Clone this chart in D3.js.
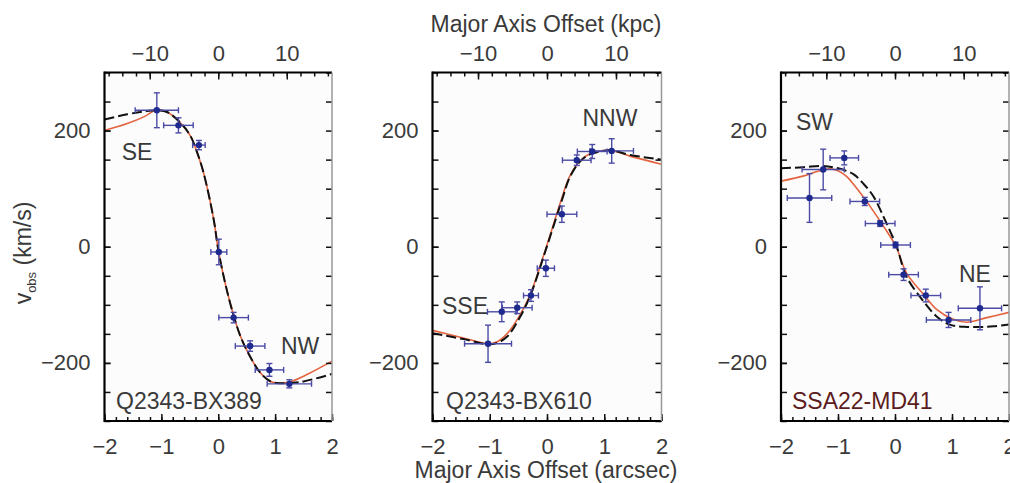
<!DOCTYPE html>
<html><head><meta charset="utf-8">
<script src="https://cdn.jsdelivr.net/npm/d3@7/dist/d3.min.js"></script>
<style>
html,body{margin:0;padding:0;background:#fff;}
svg text{font-family:"Liberation Sans",Arial,Helvetica,sans-serif;fill:#3a3a3a;}
</style></head>
<body>
<svg id="chart" width="1010" height="483"></svg>
<script>
// ---------- data ----------
const xTicks = [-2, -1, 0, 1, 2];
const kpcTicks = [-10, 0, 10];
const yTicks = [-200, 0, 200];
const kpcPerArcsec = 8.3;

const panelNames = ["Q2343-BX389", "Q2343-BX610", "SSA22-MD41"];

// points: x (arcsec), v (km/s), ex, ev
const bx389Points = [
  {x:-1.08, v:235, ex:0.38, ev:30}, {x:-0.70, v:209, ex:0.26, ev:13},
  {x:-0.34, v:175, ex:0.11, ev:8},  {x:0.01, v:-9, ex:0.14, ev:22},
  {x:0.27, v:-122, ex:0.26, ev:9},  {x:0.56, v:-171, ex:0.26, ev:9},
  {x:0.90, v:-212, ex:0.25, ev:11}, {x:1.25, v:-236, ex:0.39, ev:7}
];
const bx610Points = [
  {x:-1.03, v:-167, ex:0.41, ev:32}, {x:-0.79, v:-112, ex:0.25, ev:17},
  {x:-0.52, v:-105, ex:0.26, ev:10}, {x:-0.28, v:-84, ex:0.13, ev:10},
  {x:-0.02, v:-37, ex:0.15, ev:14},  {x:0.26, v:56, ex:0.26, ev:14},
  {x:0.52, v:149, ex:0.25, ev:9},    {x:0.79, v:164, ex:0.26, ev:12},
  {x:1.13, v:165, ex:0.38, ev:21}
];
const md41Points = [
  {x:-1.50, v:84, ex:0.39, ev:42},  {x:-1.26, v:133, ex:0.37, ev:35},
  {x:-0.89, v:153, ex:0.25, ev:12}, {x:-0.53, v:78, ex:0.26, ev:7},
  {x:-0.26, v:40, ex:0.26, ev:5},   {x:0.01, v:3, ex:0.26, ev:5},
  {x:0.15, v:-48, ex:0.26, ev:10},  {x:0.54, v:-84, ex:0.26, ev:11},
  {x:0.94, v:-126, ex:0.39, ev:13}, {x:1.49, v:-106, ex:0.38, ev:37}
];

// model curves [x, v]
const bx389Dashed = [[-2,219],[-1.6,228],[-1.3,233],[-1.08,235],[-0.9,232],[-0.67,214],[-0.49,191],[-0.37,162],[-0.26,128],[-0.08,47],[0,-5],[0.12,-62],[0.24,-108],[0.39,-154],[0.56,-189],[0.74,-217],[0.92,-232],[1.09,-235],[1.44,-233],[2,-219]];
const bx389Red = [[-2,200],[-1.6,212],[-1.3,224],[-1.08,236],[-0.9,232],[-0.67,214],[-0.49,191],[-0.37,162],[-0.26,128],[-0.08,47],[0,-5],[0.12,-62],[0.24,-108],[0.39,-154],[0.56,-189],[0.74,-217],[0.92,-232],[1.09,-235],[1.25,-233],[1.56,-220],[2,-197]];
const bx610Dashed = [[-2,-149],[-1.46,-159],[-1.03,-168],[-0.88,-166],[-0.7,-155],[-0.5,-126],[-0.3,-86],[-0.02,-5],[0.26,80],[0.4,120],[0.58,147],[0.75,159],[1.1,166],[1.45,158],[2,150]];
const bx610Red = [[-2,-144],[-1.46,-157],[-1.03,-167],[-0.88,-164],[-0.7,-150],[-0.5,-122],[-0.3,-84],[-0.02,-3],[0.26,84],[0.4,122],[0.58,148],[0.75,160],[1.1,166],[1.45,156],[2,142]];
const md41Dashed = [[-2,135],[-1.6,137],[-1.26,139],[-1.0,135],[-0.73,125],[-0.55,108],[-0.38,87],[-0.18,47],[0.03,0],[0.2,-51],[0.5,-94],[0.73,-120],[0.96,-134],[1.26,-138],[1.73,-137],[2,-134]];
const md41Red = [[-2,113],[-1.6,122],[-1.35,130],[-1.15,134],[-1.0,131],[-0.85,121],[-0.7,104],[-0.44,70],[-0.2,35],[0.02,0],[0.2,-45],[0.5,-82],[0.73,-108],[1.02,-125],[1.26,-130],[1.61,-122],[2,-113]];

const sideLabels = [
  [{t:"SE", x:121.7, y:160}, {t:"NW", x:281, y:354}],
  [{t:"NNW", x:582.5, y:126}, {t:"SSE", x:442, y:314}],
  [{t:"SW", x:796, y:130}, {t:"NE", x:959, y:282}]
];

// ---------- layout ----------
const panelLeft = [104.5, 432.5, 781];
const panelWidth = [227.5, 229, 228];
const plotTop = 72.5, plotBottom = 421;
const nameColor = ["#3a3a3a", "#3a3a3a", "#5c1c1c"];

const svg = d3.select("#chart");
const pointsAll = [bx389Points, bx610Points, md41Points];
const dashedAll = [bx389Dashed, bx610Dashed, md41Dashed];
const redAll = [bx389Red, bx610Red, md41Red];

panelNames.forEach((name, i) => {
  const L = panelLeft[i], R = L + panelWidth[i];
  const x = d3.scaleLinear().domain([-2, 2]).range([L, R]);
  const y = d3.scaleLinear().domain([-300, 300]).range([plotBottom, plotTop]);
  const k = d3.scaleLinear().domain([-2*kpcPerArcsec, 2*kpcPerArcsec]).range([L, R]);
  const g = svg.append("g");

  g.append("rect").attr("x", L).attr("y", plotTop).attr("width", R-L).attr("height", plotBottom-plotTop).attr("fill", "#fcfcfc");

  const clipId = "clip" + i;
  svg.append("clipPath").attr("id", clipId).append("rect")
    .attr("x", L).attr("y", plotTop).attr("width", R-L).attr("height", plotBottom-plotTop);

  const line = d3.line().x(d => x(d[0])).y(d => y(d[1])).curve(d3.curveCatmullRom.alpha(0.5));
  const cg = g.append("g").attr("clip-path", `url(#${clipId})`);
  cg.append("path").attr("d", line(redAll[i])).attr("fill", "none")
    .attr("stroke", "#e4643f").attr("stroke-width", 1.6);
  cg.append("path").attr("d", line(dashedAll[i])).attr("fill", "none")
    .attr("stroke", "#111").attr("stroke-width", 2).attr("stroke-dasharray", "10,4");

  // error bars
  const eb = g.append("g").attr("stroke", "#4b4ba6").attr("stroke-width", 1.4).attr("fill", "none");
  const cap = 3;
  pointsAll[i].forEach(p => {
    const cx = x(p.x), cy = y(p.v);
    const x0 = x(p.x - p.ex), x1 = x(p.x + p.ex), y0 = y(p.v - p.ev), y1 = y(p.v + p.ev);
    eb.append("line").attr("x1", x0).attr("x2", x1).attr("y1", cy).attr("y2", cy);
    eb.append("line").attr("x1", cx).attr("x2", cx).attr("y1", y0).attr("y2", y1);
    eb.append("line").attr("x1", x0).attr("x2", x0).attr("y1", cy-cap).attr("y2", cy+cap);
    eb.append("line").attr("x1", x1).attr("x2", x1).attr("y1", cy-cap).attr("y2", cy+cap);
    eb.append("line").attr("x1", cx-cap).attr("x2", cx+cap).attr("y1", y0).attr("y2", y0);
    eb.append("line").attr("x1", cx-cap).attr("x2", cx+cap).attr("y1", y1).attr("y2", y1);
  });
  g.selectAll("circle.pt").data(pointsAll[i]).join("circle").attr("class","pt")
    .attr("cx", d => x(d.x)).attr("cy", d => y(d.v)).attr("r", 3.2).attr("fill", "#1e2a8e");

  // axes
  const fmt = d3.format("d");
  const styleAxis = (sel, fs) => {
    sel.select(".domain").remove();
    sel.selectAll(".tick line").attr("stroke", "#111").attr("stroke-width", 1.5);
    sel.selectAll("text").attr("font-size", fs).attr("fill", "#3a3a3a")
      .attr("font-family", "'Liberation Sans', Arial, sans-serif");
  };
  const yMinor = d3.range(-300, 301, 50);
  g.append("g").attr("transform", `translate(${L},0)`)
    .call(d3.axisLeft(y).tickValues(yMinor).tickSize(-6).tickFormat("")).call(s => styleAxis(s, 22));
  g.append("g").attr("transform", `translate(${L},0)`)
    .call(d3.axisLeft(y).tickValues(yTicks).tickSize(-6).tickPadding(14).tickFormat(fmt)).call(s => styleAxis(s, 22));
  g.append("g").attr("transform", `translate(${R},0)`)
    .call(d3.axisRight(y).tickValues(yMinor).tickSize(-6).tickFormat("")).call(s => styleAxis(s, 22));

  const xMinor = d3.range(-20, 21, 2).map(v => v / 10);
  g.append("g").attr("transform", `translate(0,${plotBottom})`)
    .call(d3.axisBottom(x).tickValues(xMinor).tickSize(-4).tickFormat("")).call(s => styleAxis(s, 22));
  g.append("g").attr("transform", `translate(0,${plotBottom})`)
    .call(d3.axisBottom(x).tickValues(xTicks).tickSize(-7).tickPadding(17).tickFormat(fmt)).call(s => styleAxis(s, 22));

  const kMinor = d3.range(-16, 17, 2);
  g.append("g").attr("transform", `translate(0,${plotTop})`)
    .call(d3.axisTop(k).tickValues(kMinor).tickSize(-4).tickFormat("")).call(s => styleAxis(s, 22));
  g.append("g").attr("transform", `translate(0,${plotTop})`)
    .call(d3.axisTop(k).tickValues(kpcTicks).tickSize(-7).tickPadding(12).tickFormat(fmt)).call(s => styleAxis(s, 22));

  // frame
  g.append("line").attr("x1", L).attr("x2", L).attr("y1", plotTop-1).attr("y2", plotBottom+1).attr("stroke", "#000").attr("stroke-width", 2.2);
  g.append("line").attr("x1", L).attr("x2", R).attr("y1", plotTop).attr("y2", plotTop).attr("stroke", "#000").attr("stroke-width", 2);
  g.append("line").attr("x1", L).attr("x2", R).attr("y1", plotBottom).attr("y2", plotBottom).attr("stroke", "#000").attr("stroke-width", 2);
  g.append("line").attr("x1", R).attr("x2", R).attr("y1", plotTop).attr("y2", plotBottom).attr("stroke", "#999").attr("stroke-width", 1.5);

  // labels
  sideLabels[i].forEach(l => {
    g.append("text").attr("x", l.x).attr("y", l.y).attr("font-size", 23).text(l.t);
  });
  g.append("text").attr("x", [116, 446, 792][i]).attr("y", 408.5).attr("font-size", 23)
    .style("fill", nameColor[i]).text(name);
});

// axis titles
svg.append("text").attr("x", 546).attr("y", 31.5).attr("text-anchor", "middle").attr("font-size", 23)
  .text("Major Axis Offset (kpc)");
svg.append("text").attr("x", 546).attr("y", 478).attr("text-anchor", "middle").attr("font-size", 23)
  .text("Major Axis Offset (arcsec)");
const yt = svg.append("text").attr("transform", "translate(31,253) rotate(-90)")
  .attr("text-anchor", "middle").attr("font-size", 23);
yt.append("tspan").text("v");
yt.append("tspan").attr("font-size", 13).attr("dy", 5).text("obs");
yt.append("tspan").attr("dy", -5).text(" (km/s)");
</script>
</body></html>
